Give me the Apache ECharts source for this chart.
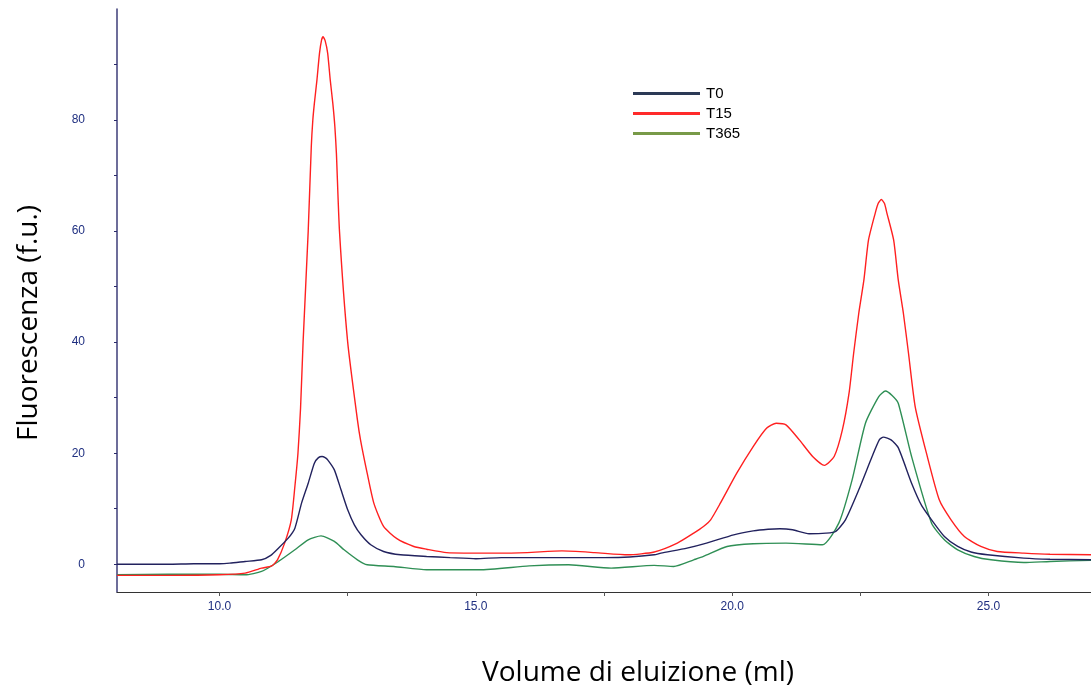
<!DOCTYPE html>
<html>
<head>
<meta charset="utf-8">
<script src="https://cdn.jsdelivr.net/npm/echarts@6/dist/echarts.min.js"></script>
<style>
  html, body { margin: 0; padding: 0; background: #ffffff; }
  #chart { width: 1091px; height: 695px; }
</style>
</head>
<body>
<div id="chart"></div>
<script>
// Elution profiles: [volume (ml), fluorescence (f.u.)]
const seriesNames = ['T0', 'T15', 'T365'];

const t0Data = [
  [8.0,0.0],[9.0,0.0],[9.5,0.1],[10.0,0.1],[10.2,0.2],[10.5,0.5],[10.82,0.8],[11.0,1.6],
  [11.15,2.9],[11.34,4.7],[11.47,6.5],[11.6,11.0],[11.73,14.6],[11.85,18.2],[11.93,19.2],
  [12.0,19.4],[12.06,19.2],[12.11,18.8],[12.24,17.0],[12.37,13.4],[12.5,9.8],[12.63,7.1],
  [12.76,5.3],[12.95,3.5],[13.2,2.3],[13.53,1.7],[14.04,1.4],[14.5,1.2],[15.0,1.0],[15.5,1.2],
  [16.5,1.2],[17.5,1.2],[18.0,1.3],[18.48,1.7],[18.61,2.0],[19.12,2.9],[19.5,3.8],[20.03,5.3],
  [20.41,6.0],[20.7,6.3],[20.93,6.4],[21.18,6.2],[21.5,5.5],[21.83,5.6],[22.02,5.9],[22.21,8.0],
  [22.47,13.4],[22.73,19.4],[22.87,22.4],[22.95,22.9],[23.1,22.4],[23.24,21.0],[23.5,14.6],
  [23.7,10.5],[23.89,8.0],[24.14,5.0],[24.4,3.2],[24.66,2.2],[24.98,1.7],[25.69,1.1],
  [26.2,0.9],[27.0,0.8]
];

const t15Data = [
  [8.0,-2.0],[9.0,-2.0],[10.0,-1.9],[10.5,-1.6],[10.82,-0.7],[11.02,-0.3],[11.13,0.8],
  [11.27,3.8],[11.4,8.0],[11.47,14.0],[11.53,20.0],[11.58,28.0],[11.63,40.0],[11.73,60.0],
  [11.79,75.2],[11.82,80.0],[11.85,83.0],[11.9,87.2],[11.95,92.0],[11.99,94.4],[12.02,95.0],
  [12.06,94.3],[12.11,92.0],[12.16,87.2],[12.21,83.0],[12.25,78.8],[12.28,74.0],[12.34,60.0],
  [12.5,40.0],[12.69,26.0],[12.75,22.4],[12.88,16.4],[13.01,11.0],[13.2,6.8],[13.46,4.6],
  [13.79,3.2],[14.04,2.7],[14.43,2.1],[15.39,2.0],[16.0,2.1],[16.68,2.4],[17.32,2.1],
  [17.97,1.7],[18.48,2.2],[18.93,3.8],[19.25,5.6],[19.44,6.8],[19.58,8.0],[19.77,11.0],
  [20.09,16.4],[20.41,21.2],[20.67,24.5],[20.86,25.4],[21.05,25.1],[21.31,22.4],[21.57,19.4],
  [21.8,17.8],[21.99,19.4],[22.15,24.2],[22.28,30.8],[22.37,38.0],[22.47,45.2],[22.57,51.2],
  [22.66,58.4],[22.79,63.2],[22.85,65.0],[22.91,65.7],[22.97,65.0],[23.02,63.2],[23.15,58.4],
  [23.24,51.2],[23.34,45.2],[23.44,38.0],[23.57,28.4],[23.79,20.0],[24.04,11.6],[24.27,8.0],
  [24.53,5.0],[24.85,3.2],[25.17,2.3],[25.69,2.0],[26.2,1.8],[27.0,1.7]
];

const t365Data = [
  [8.0,-1.9],[9.0,-1.8],[10.0,-1.8],[10.5,-1.9],[10.82,-1.3],[11.15,0.5],[11.47,2.6],
  [11.73,4.4],[11.98,5.1],[12.24,4.1],[12.43,2.6],[12.69,0.8],[12.88,-0.1],[13.4,-0.4],
  [14.04,-1.0],[15.07,-1.0],[16.04,-0.3],[16.81,-0.1],[17.64,-0.7],[18.48,-0.2],[18.86,-0.4],
  [19.25,0.8],[19.44,1.4],[19.9,3.2],[20.41,3.7],[21.05,3.8],[21.76,3.5],[22.08,7.4],
  [22.34,15.2],[22.6,25.4],[22.86,30.2],[22.99,31.2],[23.12,30.4],[23.24,29.0],[23.5,19.4],
  [23.89,7.4],[24.14,4.4],[24.4,2.6],[24.72,1.4],[25.05,0.8],[25.69,0.3],[26.2,0.5],[27.0,0.7]
];

// Axis ticks and labels
const xTickValues = [10, 12.5, 15, 17.5, 20, 22.5, 25];
const xLabelValues = [10, 15, 20, 25];
const yTickValues = [0, 10, 20, 30, 40, 50, 60, 70, 80, 90];
const yLabelValues = [0, 20, 40, 60, 80];

const lineColors = ['#22225e', '#ff2020', '#2f8f55'];
const legendColors = ['#2c3a56', '#ff2a2a', '#789a48'];

const chart = echarts.init(document.getElementById('chart'), null, { renderer: 'canvas' });

const allData = [t0Data, t15Data, t365Data];

chart.setOption({
  backgroundColor: '#ffffff',
  animation: false,
  grid: { left: 117, top: 9, width: 984, height: 583, containLabel: false },
  legend: {
    orient: 'vertical',
    left: 628,
    top: 81,
    icon: 'rect',
    itemWidth: 67,
    itemHeight: 3,
    itemGap: 5,
    textStyle: { fontFamily: 'Liberation Sans', fontSize: 15, color: '#000', lineHeight: 14, padding: [0, 0, 0, 1] },
    data: seriesNames.map((n, i) => ({ name: n, itemStyle: { color: legendColors[i] } }))
  },
  xAxis: {
    type: 'value',
    min: 8,
    max: 27,
    axisLine: { show: true, onZero: false, lineStyle: { color: '#333', width: 1 } },
    axisTick: { show: true, length: 4, customValues: xTickValues, lineStyle: { color: '#555' } },
    axisLabel: {
      customValues: xLabelValues,
      margin: 9,
      color: '#1f2f80',
      fontFamily: 'Liberation Sans',
      fontSize: 12,
      formatter: v => v.toFixed(1)
    },
    splitLine: { show: false }
  },
  yAxis: {
    type: 'value',
    min: -5,
    max: 100,
    axisLine: { show: true, onZero: false, lineStyle: { color: '#3c3c78', width: 1.5 } },
    axisTick: { show: true, length: 3, customValues: yTickValues, lineStyle: { color: '#2a2a6a' } },
    axisLabel: {
      customValues: yLabelValues,
      margin: 32,
      color: '#1f2f80',
      fontFamily: 'Liberation Sans',
      fontSize: 12
    },
    splitLine: { show: false }
  },
  // Axis titles placed as free text
  graphic: [
    {
      type: 'text',
      x: 638, y: 673,
      style: {
        text: 'Volume di eluizione (ml)',
        font: '28px "Open Sans"',
        fill: '#000',
        align: 'center',
        verticalAlign: 'middle'
      }
    },
    {
      type: 'text',
      x: 29, y: 323,
      rotation: Math.PI / 2,
      style: {
        text: 'Fluorescenza (f.u.)',
        font: '28px "Open Sans"',
        fill: '#000',
        align: 'center',
        verticalAlign: 'middle'
      }
    }
  ],
  series: seriesNames.map((n, i) => ({
    name: n,
    type: 'line',
    data: allData[i],
    showSymbol: false,
    smooth: 0.2,
    clip: true,
    lineStyle: { color: lineColors[i], width: 1.4 },
    itemStyle: { color: lineColors[i] },
    z: 3 - i
  }))
});
</script>
</body>
</html>
